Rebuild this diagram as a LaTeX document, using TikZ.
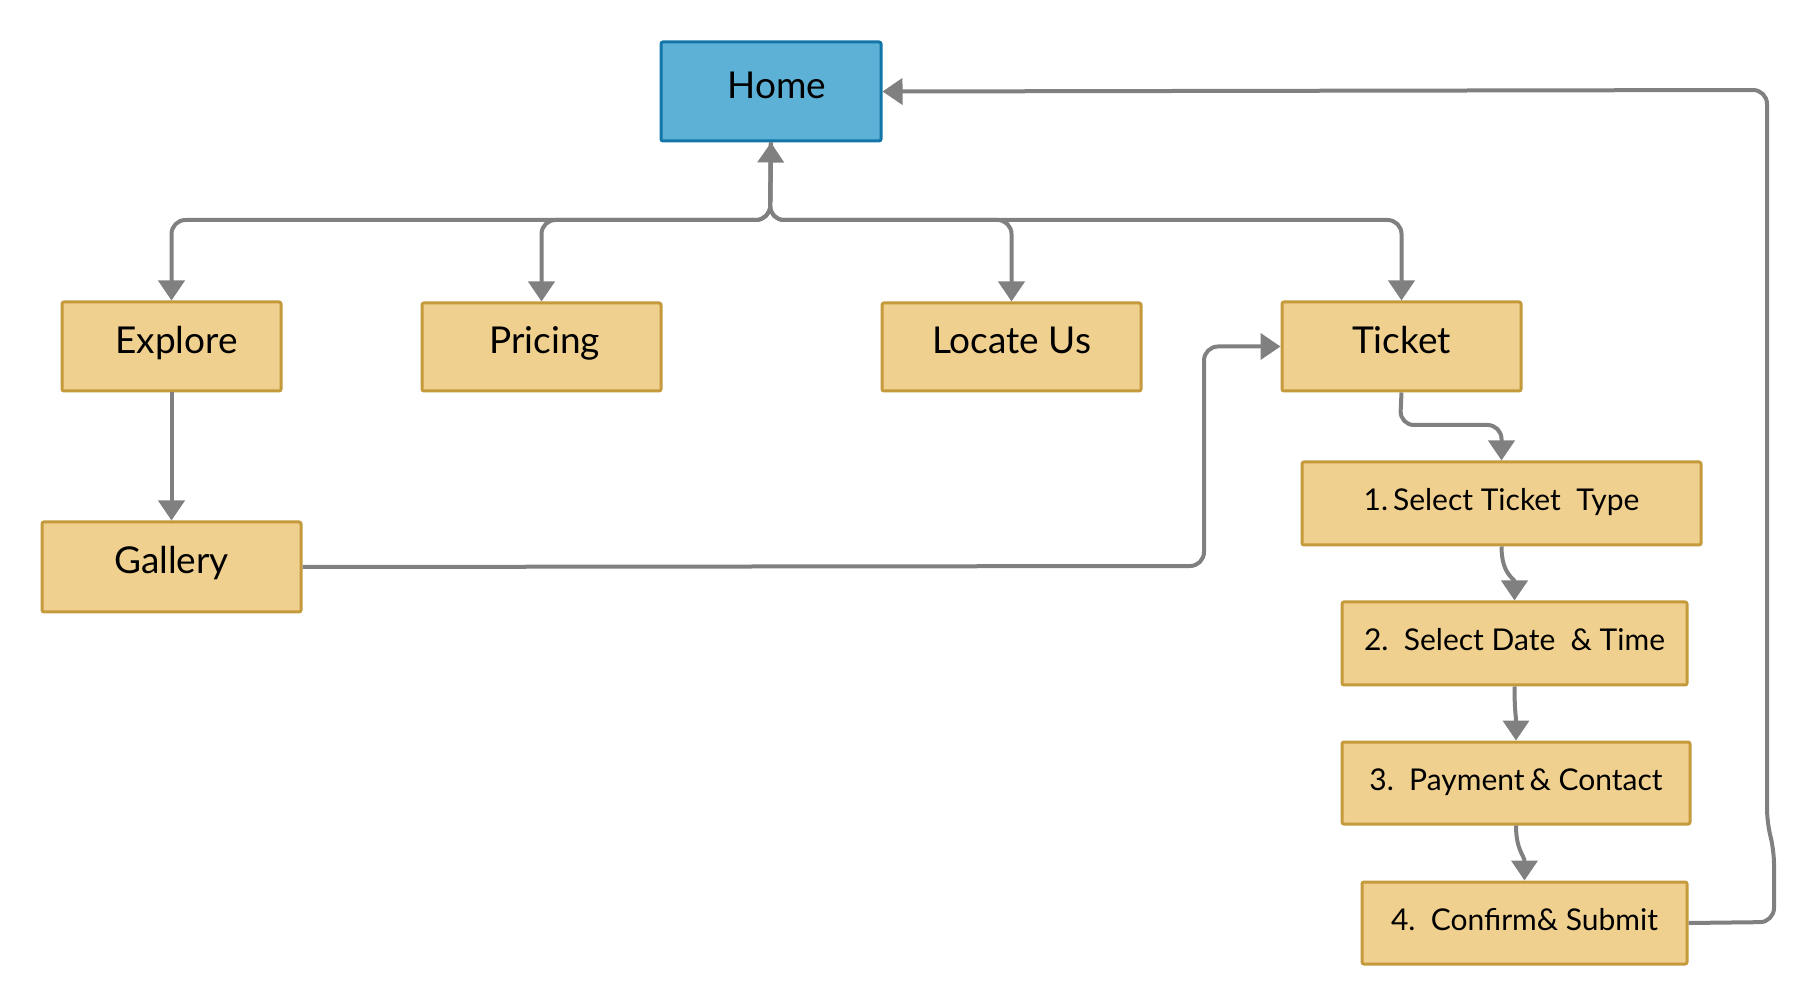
\documentclass[tikz,border=0pt]{standalone}
\usepackage{fontspec}
\setmainfont{Lato}
\usetikzlibrary{arrows.meta}
\definecolor{homefill}{HTML}{5DB0D6}
\definecolor{homeline}{HTML}{1276A8}
\definecolor{boxfill}{HTML}{F0D08E}
\definecolor{boxline}{HTML}{C49A3C}
\definecolor{connc}{HTML}{808080}
\tikzset{
  basebox/.style={draw, line width=1.5pt, rounded corners=1pt, inner sep=0pt, anchor=north west,
    text height=0.9em, text depth=0.2em},
  homebox/.style={basebox, draw=homeline, fill=homefill},
  pagebox/.style={basebox, draw=boxline, fill=boxfill},
  conn/.style={draw=connc, line width=2pt, rounded corners=7pt,
    -{Triangle[length=10pt,width=13pt]}},
  bigtxt/.style={font=\fontsize{18.5}{22}\selectfont},
  smalltxt/.style={font=\fontsize{15}{18}\selectfont}
}
\begin{document}
\begin{tikzpicture}[x=0.5pt,y=-0.5pt]
\useasboundingbox (0,0) rectangle (1814,1004);
% boxes
\node[homebox, minimum width=110pt, minimum height=49.5pt, bigtxt] (home) at (659.5,40.5) {\hspace{6pt}Home};
\node[pagebox, minimum width=109.5pt, minimum height=44.5pt, bigtxt] (explore) at (60.5,300.5) {\hspace{5pt}Explore};
\node[pagebox, minimum width=119.5pt, minimum height=44pt, bigtxt] (pricing) at (420.5,301.5) {\hspace{3pt}Pricing};
\node[pagebox, minimum width=129.5pt, minimum height=44pt, bigtxt] (locate) at (880.5,301.5) {Locate Us};
\node[pagebox, minimum width=119.5pt, minimum height=44.5pt, bigtxt] (ticket) at (1280.5,300.5) {Ticket};
\node[pagebox, minimum width=129.5pt, minimum height=45pt, bigtxt] (gallery) at (40.5,520.5) {Gallery};
\node[pagebox, minimum width=199.5pt, minimum height=41.5pt, smalltxt] (stt) at (1300.5,460.5) {1.\,Select Ticket\ \ Type};
\node[pagebox, minimum width=172.5pt, minimum height=41.5pt, smalltxt] (sdt) at (1340.5,600.5) {2.\ \ Select Date\ \ \& Time};
\node[pagebox, minimum width=174pt, minimum height=41pt, smalltxt] (pay) at (1340.5,740.5) {3.\ \ Payment\,\& Contact};
\node[pagebox, minimum width=162.5pt, minimum height=41pt, smalltxt] (conf) at (1360.5,880.5) {4.\ \ Confirm\& Submit};
% hub connectors
\coordinate (hub) at (770,220);
\draw[conn, {Triangle[length=10pt,width=13pt]}-{Triangle[length=10pt,width=13pt]}] (home.south) -- (hub) -| (explore.north);
\draw[conn] (home.south) -- (hub) -| (pricing.north);
\draw[conn] (home.south) -- (hub) -| (locate.north);
\draw[conn] (home.south) -- (hub) -| (ticket.north);
% explore to gallery
\draw[conn] (explore.south) -- (gallery.north);
% gallery to ticket
\coordinate (gturn) at (1204,566);
\draw[conn] (gallery.east) -- (gturn) |- (ticket.west);
% ticket to steps
\coordinate (tturn) at (1400,425);
\draw[conn] (ticket.south) -- (tturn) -| (stt.north);
\draw[conn] (stt.south) .. controls +(0,28) and +(0,-22) .. (sdt.north);
\draw[conn] (sdt.south) .. controls +(0,25) and +(0,-25) .. (pay.north);
\draw[conn] (pay.south) .. controls +(0,25) and +(0,-25) .. (conf.north);
% back to home
\coordinate (r1) at (1774,922);
\coordinate (r2) at (1774,850);
\coordinate (r3) at (1767,823);
\coordinate (r4) at (1767,90);
\draw[conn] (conf.east) -- (r1) -- (r2) -- (r3) -- (r4) -- (home.east);
\end{tikzpicture}
\end{document}
